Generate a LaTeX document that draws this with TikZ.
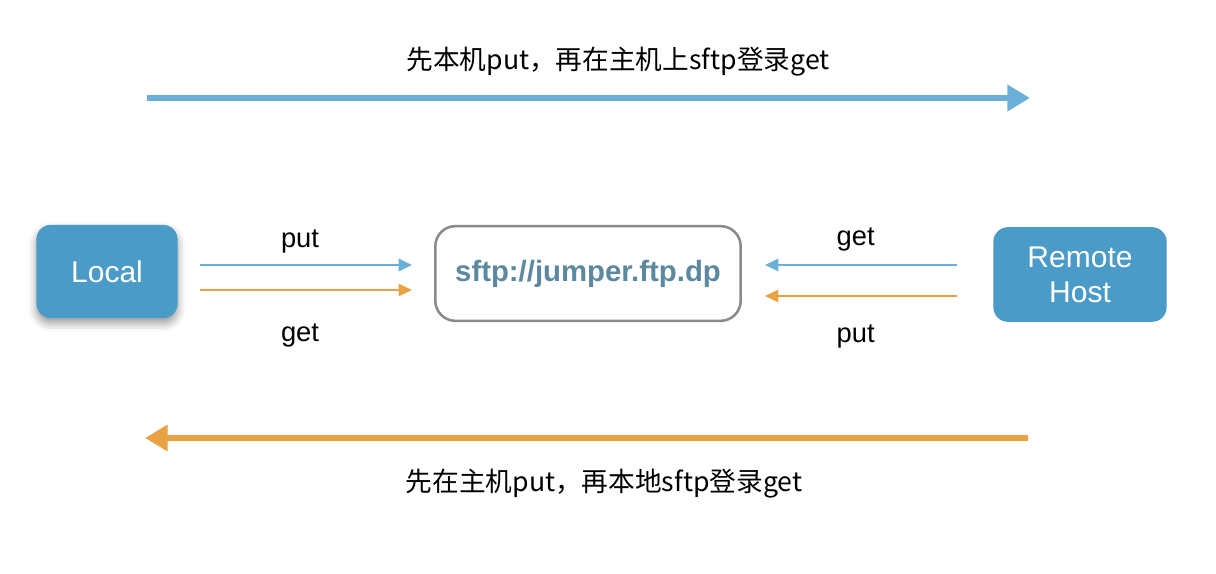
\documentclass[tikz,border=0pt]{standalone}
\usepackage{fontspec}
\setmainfont{Liberation Sans}
\newfontfamily\cjk{Noto Sans CJK SC}
\usetikzlibrary{arrows.meta,calc,shadows.blur}
\definecolor{boxblue}{HTML}{4B9BC8}
\definecolor{arrblue}{HTML}{6AAFD8}
\definecolor{arrorange}{HTML}{E8A243}
\definecolor{bordergray}{HTML}{8A8A8C}
\definecolor{urltext}{HTML}{5C88A0}
\tikzset{
  bluebox/.style={fill=boxblue, draw=none, rounded corners=11pt, text=white,
    font=\fontsize{22.5}{26}\selectfont, align=center, inner sep=0pt},
  serverbox/.style={fill=white, draw=bordergray, line width=1.9pt, rounded corners=15pt,
    text=urltext, font=\fontsize{22}{26}\selectfont\bfseries, inner sep=0pt,
    minimum width=229pt, minimum height=71pt},
  smallarrow/.style={line width=1.9pt, -{Triangle[length=10pt,width=9pt]}},
  bigarrow/.style={line width=4.5pt, -{Triangle[length=17pt,width=19pt]}},
  lbl/.style={font=\fontsize{20.5}{24}\selectfont, text=black},
  cnlbl/.style={font=\cjk\fontsize{20}{24}\selectfont, text=black},
}
\begin{document}
\begin{tikzpicture}[x=0.75pt,y=-0.75pt]
\useasboundingbox (0,0) rectangle (1216,574);
% boxes
\node[bluebox, minimum width=106pt, minimum height=70pt,
  blur shadow={shadow xshift=0pt, shadow yshift=-4pt, shadow blur radius=6pt, shadow opacity=40}]
  (local) at (107,271.5) {Local};
\node[serverbox] (server) at (588,273.5) {sftp://jumper.ftp.dp};
\node[bluebox, minimum width=130pt, minimum height=71pt] (remote) at (1080,274.5) {Remote\\Host};
% small arrows left
\draw[smallarrow, arrblue] ($(local.east)+(22,-6.5)$) -- ($(server.west)+(-22,-8.5)$)
  node[lbl, midway, yshift=18pt, xshift=-4.5pt] (lput) {put};
\draw[smallarrow, arrorange] ($(local.east)+(22,18.5)$) -- ($(server.west)+(-22,16.5)$)
  node[lbl, midway, yshift=-34pt, xshift=-4.5pt] (lget) {get};
% small arrows right
\draw[smallarrow, arrblue] ($(remote.west)+(-36,-9.5)$) -- ($(server.east)+(23,-8.5)$)
  node[lbl, midway, yshift=19pt, xshift=-4pt] (rget) {get};
\draw[smallarrow, arrorange] ($(remote.west)+(-36,21.5)$) -- ($(server.east)+(23,22.5)$)
  node[lbl, midway, yshift=-30pt, xshift=-4pt] (rput) {put};
% big arrows
\coordinate (ts) at (147,98);
\coordinate (te) at (1030,98);
\coordinate (bs) at (1028,438);
\coordinate (be) at (145,438);
\draw[bigarrow, arrblue] (ts) -- (te);
\draw[bigarrow, arrorange] (bs) -- (be);
\node[cnlbl] (toptext) at (618,62) {先本机put，再在主机上sftp登录get};
\node[cnlbl] (bottext) at (604,484) {先在主机put，再本地sftp登录get};
\end{tikzpicture}
\end{document}
